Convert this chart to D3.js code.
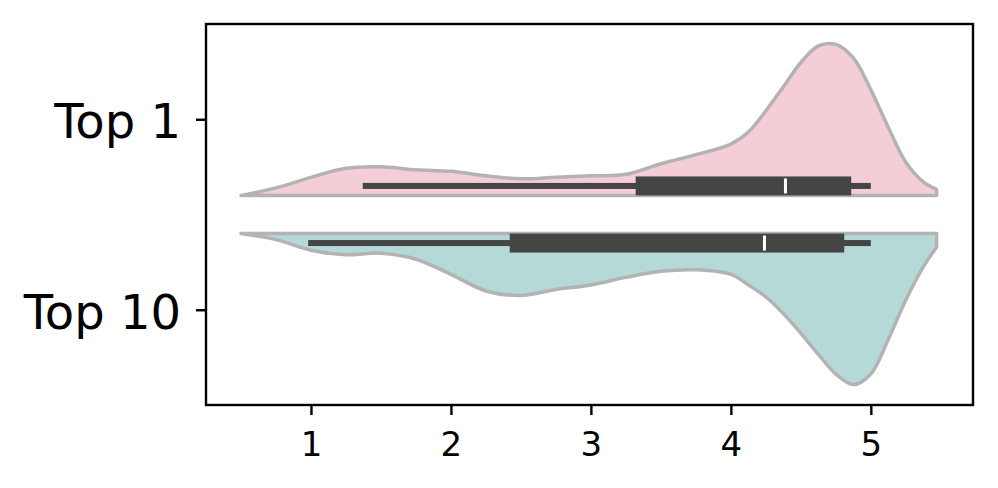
<!DOCTYPE html>
<html>
<head>
<meta charset="utf-8">
<title>Split violins</title>
<script src="https://d3js.org/d3.v7.min.js"></script>
<style>
  body { margin: 0; background: #fff; }
  svg { display: block; font-family: "DejaVu Sans", sans-serif; }
</style>
</head>
<body>
<svg></svg>
<script>
// categories and the densities (relative, peak = 1)
const categories = ["Top 1", "Top 10"];
const gridX = [0.5, 0.75, 1, 1.25, 1.5, 1.75, 2, 2.25, 2.5, 2.75, 3, 3.25, 3.5, 3.75,
               4, 4.125, 4.25, 4.375, 4.5, 4.625, 4.75, 4.875, 5, 5.125, 5.25, 5.375, 5.47];
const densityTop1 = [0, 0.05, 0.12, 0.18, 0.19, 0.17, 0.16, 0.13, 0.11, 0.12, 0.13, 0.14, 0.21, 0.27,
                     0.34, 0.42, 0.56, 0.72, 0.88, 0.99, 1.0, 0.91, 0.70, 0.45, 0.22, 0.09, 0.04];
const densityTop10 = [0, 0.04, 0.11, 0.14, 0.13, 0.17, 0.27, 0.38, 0.41, 0.37, 0.34, 0.29, 0.25, 0.24,
                      0.27, 0.34, 0.42, 0.53, 0.66, 0.80, 0.93, 1.0, 0.93, 0.70, 0.44, 0.22, 0.09];

// box statistics per category
const whiskerLow = [1.37, 0.98];
const quartile1 = [3.32, 2.42];
const medians = [4.39, 4.24];
const quartile3 = [4.86, 4.81];
const whiskerHigh = [5.0, 5.0];

const xTicks = [1, 2, 3, 4, 5];
const fills = ["#f4cdd6", "#b5d9d6"];

const width = 998, height = 488;
const svg = d3.select("svg").attr("width", width).attr("height", height);

const x = d3.scaleLinear().domain([0.25, 5.73]).range([206, 973]);
const y = d3.scaleLinear().domain([-0.5, 1.5]).range([24, 405]);
const halfWidth = d3.scaleLinear().domain([0, 1]).range([0, 0.793]);

const series = [densityTop1, densityTop10];

series.forEach((dens, i) => {
  const dir = i === 0 ? -1 : 1;
  const base = i - dir * 0.4;
  const area = d3.area()
    .x((d, j) => x(gridX[j]))
    .y0(y(base))
    .y1(d => y(base + dir * halfWidth(d)))
    .curve(d3.curveCatmullRom.alpha(0.5));

  svg.append("path")
    .datum(dens)
    .attr("d", area)
    .attr("fill", fills[i])
    .attr("stroke", "#b3b3b3")
    .attr("stroke-width", 3.5)
    .attr("stroke-linejoin", "round")
    .attr("stroke-linecap", "round");

  // inner box
  const yb = y(base);
  const boxH = 19, whiskH = 6;
  const top = dir < 0 ? yb - boxH : yb;
  const g = svg.append("g");
  g.append("rect")
    .attr("x", x(whiskerLow[i]))
    .attr("width", x(whiskerHigh[i]) - x(whiskerLow[i]))
    .attr("y", top + (boxH - whiskH) / 2)
    .attr("height", whiskH)
    .attr("fill", "#454545");
  g.append("rect")
    .attr("x", x(quartile1[i]))
    .attr("width", x(quartile3[i]) - x(quartile1[i]))
    .attr("y", top)
    .attr("height", boxH)
    .attr("fill", "#454545");
  g.append("line")
    .attr("x1", x(medians[i])).attr("x2", x(medians[i]))
    .attr("y1", top + 2).attr("y2", top + boxH - 2)
    .attr("stroke", "#fff")
    .attr("stroke-width", 3);
});

// frame
svg.append("rect")
  .attr("x", x.range()[0]).attr("y", y.range()[0])
  .attr("width", x.range()[1] - x.range()[0])
  .attr("height", y.range()[1] - y.range()[0])
  .attr("fill", "none")
  .attr("stroke", "#000")
  .attr("stroke-width", 2.4);

const xAxis = svg.append("g")
  .attr("transform", `translate(0,${y.range()[1]})`)
  .call(d3.axisBottom(x).tickValues(xTicks).tickSize(10).tickPadding(17).tickFormat(d3.format("d")));
xAxis.select(".domain").remove();
xAxis.selectAll("line").attr("stroke", "#000").attr("stroke-width", 2.4);
xAxis.selectAll("text").attr("font-size", 34).attr("font-family", "DejaVu Sans").attr("fill", "#000");

const yAxis = svg.append("g")
  .attr("transform", `translate(${x.range()[0]},0)`)
  .call(d3.axisLeft(y).tickValues([0, 1]).tickSize(10).tickPadding(15).tickFormat(d => categories[d]));
yAxis.select(".domain").remove();
yAxis.selectAll("line").attr("stroke", "#000").attr("stroke-width", 2.4);
yAxis.selectAll("text").attr("font-size", 48).attr("font-family", "DejaVu Sans").attr("fill", "#000").attr("dy", "0.38em");
</script>
</body>
</html>
